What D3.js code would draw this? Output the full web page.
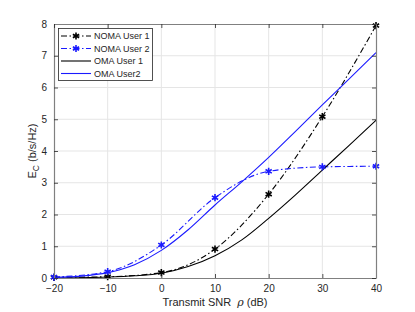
<!DOCTYPE html>
<html>
<head>
<meta charset="utf-8">
<script src="https://cdn.jsdelivr.net/npm/d3@7"></script>
<style>
body { margin: 0; background: #fff; }
svg text { font-family: "Liberation Sans", Arial, sans-serif; fill: #262626; }
</style>
</head>
<body>
<div id="chart"></div>
<script>
// values
var snrMarks = [-20, -10, 0, 10, 20, 30, 40];
var nomaUser1 = [0.02, 0.04, 0.17, 0.91, 2.64, 5.08, 7.95];
var nomaUser2 = [0.03, 0.2, 1.04, 2.53, 3.36, 3.5, 3.52];

var snrFine = [-20, -15, -10, -5, 0, 5, 10, 15, 20, 25, 30, 35, 40];
var omaUser1 = [0.0, 0.01, 0.03, 0.07, 0.15, 0.36, 0.7, 1.2, 1.88, 2.62, 3.4, 4.18, 4.97];
var omaUser2 = [0.02, 0.06, 0.17, 0.42, 0.87, 1.52, 2.3, 3.03, 3.8, 4.62, 5.45, 6.27, 7.1];

var xTicks = [-20, -10, 0, 10, 20, 30, 40];
var yTicks = [0, 1, 2, 3, 4, 5, 6, 7, 8];

var legendNames = ["NOMA User 1", "NOMA User 2", "OMA User 1", "OMA User2"];

var W = 415, H = 312;
var m = {left: 54, top: 24, right: 39, bottom: 34};

var svg = d3.select("#chart").append("svg")
	.attr("width", W)
	.attr("height", H);

var x = d3.scaleLinear().domain([-20, 40]).range([m.left, W - m.right]);
var y = d3.scaleLinear().domain([0, 8]).range([H - m.bottom, m.top]);

//grid
svg.append("g").selectAll("line").data(xTicks.slice(1, -1)).join("line")
	.attr("x1", d => x(d)).attr("x2", d => x(d))
	.attr("y1", y(0)).attr("y2", y(8))
	.attr("stroke", "#e5e5e5").attr("stroke-width", 1);
svg.append("g").selectAll("line").data(yTicks.slice(1, -1)).join("line")
	.attr("y1", d => y(d)).attr("y2", d => y(d))
	.attr("x1", x(-20)).attr("x2", x(40))
	.attr("stroke", "#e5e5e5").attr("stroke-width", 1);

svg.append("clipPath").attr("id", "clip")
	.append("rect")
	.attr("x", x(-20)).attr("y", y(8) - 4)
	.attr("width", x(40) - x(-20) + 4).attr("height", y(0) - y(8) + 4);

var lineOf = function(xs){
	return d3.line()
		.x((d, i) => x(xs[i]))
		.y(d => y(d))
		.curve(d3.curveMonotoneX);
};

var series = [
	{xs: snrMarks, v: nomaUser1, color: "#000000", dash: "6,2.5,1.5,2.5", mark: true},
	{xs: snrMarks, v: nomaUser2, color: "#1a1aff", dash: "6,2.5,1.5,2.5", mark: true},
	{xs: snrFine, v: omaUser1, color: "#000000", dash: null, mark: false},
	{xs: snrFine, v: omaUser2, color: "#1a1aff", dash: null, mark: false}
];

var plot = svg.append("g").attr("clip-path", "url(#clip)");

series.forEach(function(s){
	plot.append("path")
		.attr("d", lineOf(s.xs)(s.v))
		.attr("fill", "none")
		.attr("stroke", s.color)
		.attr("stroke-width", 1.1)
		.attr("stroke-dasharray", s.dash);
});

var star = d3.symbol().type(d3.symbolAsterisk).size(36);

series.filter(s => s.mark).forEach(function(s){
	svg.append("g").selectAll("path").data(s.v).join("path")
		.attr("transform", (d, i) => "translate(" + x(s.xs[i]) + "," + y(d) + ")")
		.attr("d", star)
		.attr("fill", "none")
		.attr("stroke", s.color)
		.attr("stroke-width", 1.6);
});

//axes box with inward ticks
var axisColor = "#262626";
var xB = d3.axisBottom(x).tickValues(xTicks).tickSizeInner(-4).tickSizeOuter(0).tickPadding(7);
var yL = d3.axisLeft(y).tickValues(yTicks).tickSizeInner(-4).tickSizeOuter(0).tickPadding(7);
var xT = d3.axisTop(x).tickValues(xTicks).tickSizeInner(-4).tickSizeOuter(0).tickFormat("");
var yR = d3.axisRight(y).tickValues(yTicks).tickSizeInner(-4).tickSizeOuter(0).tickFormat("");

var gx = svg.append("g").attr("transform", "translate(0," + y(0) + ")").call(xB);
var gy = svg.append("g").attr("transform", "translate(" + x(-20) + ",0)").call(yL);
var gt = svg.append("g").attr("transform", "translate(0," + y(8) + ")").call(xT);
var gr = svg.append("g").attr("transform", "translate(" + x(40) + ",0)").call(yR);

[gx, gy, gt, gr].forEach(function(g){
	g.selectAll(".domain").attr("stroke", "#808080").attr("stroke-width", 1.2);
	g.selectAll(".tick line").attr("stroke", axisColor).attr("stroke-width", 0.8);
	g.selectAll("text").attr("font-size", 10).attr("fill", axisColor)
		.style("font-family", "'Liberation Sans', Arial, sans-serif");
});

//axis labels
svg.append("text")
	.attr("x", (x(-20) + x(40)) / 2)
	.attr("y", 306)
	.attr("text-anchor", "middle")
	.attr("font-size", 11)
	.html("Transmit SNR &#160;<tspan font-style='italic' font-family='DejaVu Serif'>ρ</tspan> (dB)");

var yl = svg.append("text")
	.attr("transform", "translate(36," + ((y(0) + y(8)) / 2) + ") rotate(-90)")
	.attr("text-anchor", "middle")
	.attr("font-size", 11);
yl.append("tspan").text("E");
yl.append("tspan").attr("font-size", 8.5).attr("dy", 3).text("C");
yl.append("tspan").attr("dy", -3).text(" (b/s/Hz)");

//legend
var lg = svg.append("g");
lg.append("rect")
	.attr("x", 58.5).attr("y", 28.5)
	.attr("width", 94).attr("height", 52)
	.attr("fill", "#fff")
	.attr("stroke", "#262626")
	.attr("stroke-width", 0.8);

legendNames.forEach(function(name, i){
	var s = series[i];
	var ly = 36 + i * 12.5;
	lg.append("line")
		.attr("x1", 61).attr("x2", 91)
		.attr("y1", ly).attr("y2", ly)
		.attr("stroke", s.color)
		.attr("stroke-width", 1.1)
		.attr("stroke-dasharray", s.dash);
	if(s.mark){
		lg.append("path")
			.attr("transform", "translate(76," + ly + ")")
			.attr("d", star)
			.attr("fill", "none")
			.attr("stroke", s.color)
			.attr("stroke-width", 1.6);
	}
	lg.append("text")
		.attr("x", 94).attr("y", ly + 3.3)
		.attr("font-size", 9)
		.text(name);
});
</script>
</body>
</html>
